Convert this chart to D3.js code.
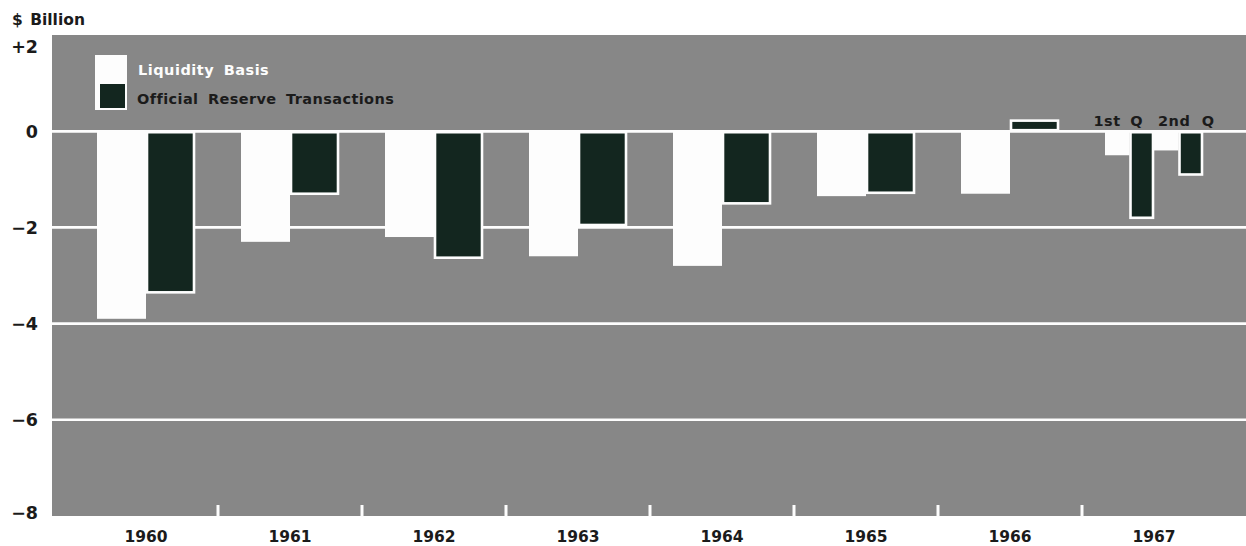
<!DOCTYPE html>
<html>
<head>
<meta charset="utf-8">
<script src="https://cdn.jsdelivr.net/npm/d3@7"></script>
<style>
  html, body { margin: 0; padding: 0; background: #fff; }
  svg { display: block; }
  text { font-family: "DejaVu Sans", sans-serif; font-weight: bold; }
</style>
</head>
<body>
<svg id="chart" width="1246" height="546"></svg>
<script>
// U.S. balance of payments, $ billion
const years = ["1960", "1961", "1962", "1963", "1964", "1965", "1966", "1967"];
const annualYears = ["1960", "1961", "1962", "1963", "1964", "1965", "1966"];
const liquidityBasis = [-3.9, -2.3, -2.2, -2.6, -2.8, -1.35, -1.3];
const officialReserve = [-3.35, -1.3, -2.63, -1.95, -1.5, -1.28, 0.22];
const quarters = ["1st Q", "2nd Q"];
const liquidity1967 = [-0.5, -0.4];
const official1967 = [-1.8, -0.9];
const yTicks = [2, 0, -2, -4, -6, -8];
const yTickLabels = ["+2", "0", "\u22122", "\u22124", "\u22126", "\u22128"];
const seriesNames = ["Liquidity Basis", "Official Reserve Transactions"];

const plotLeft = 52, plotRight = 1246;
const GRAY = "#878787", DARK = "#13261f", WHITE = "#fdfdfd", INK = "#1b1b1b";

const svg = d3.select("#chart");

const x = d3.scaleBand().domain(years).range([74, 1226]).padding(0);
const y = d3.scaleLinear().domain([-8, 2]).range([516, 35]);

// inner positions: a pair of bars per year, four bars for the 1967 quarters
const pairWidth = 98;
const pairOffset = (x.bandwidth() - pairWidth) / 2;
const inner = d3.scaleBand().domain(["liq", "ort"]).range([0, pairWidth]);
const innerQ = d3.scaleBand().domain(["q1liq", "q1ort", "q2liq", "q2ort"]).range([0, pairWidth]);

// plot background
svg.append("rect")
  .attr("x", plotLeft).attr("y", y(2))
  .attr("width", plotRight - plotLeft).attr("height", y(-8) - y(2))
  .attr("fill", GRAY);

// horizontal gridlines
svg.append("g").selectAll("line")
  .data(yTicks.filter(d => d < 2 && d > -8))
  .join("line")
  .attr("x1", plotLeft).attr("x2", plotRight)
  .attr("y1", d => y(d)).attr("y2", d => y(d))
  .attr("stroke", WHITE).attr("stroke-width", 2.6);

// y axis labels
const yLabelShift = [18, 7, 6.5, 6.5, 6.5, 3];
svg.append("g").selectAll("text")
  .data(yTicks)
  .join("text")
  .attr("x", 38)
  .attr("y", (d, i) => y(d) + yLabelShift[i])
  .attr("text-anchor", "end")
  .attr("font-size", 17.5)
  .attr("fill", INK)
  .text((d, i) => yTickLabels[i]);

svg.append("text")
  .attr("x", 12).attr("y", 25)
  .attr("font-size", 15.5)
  .attr("fill", INK)
  .attr("word-spacing", 2)
  .text("$ Billion");

// annual bars
const barsG = svg.append("g");
const annual = annualYears.map((yr, i) => ({ yr, liq: liquidityBasis[i], ort: officialReserve[i] }));

barsG.selectAll("rect.liq")
  .data(annual)
  .join("rect")
  .attr("class", "liq")
  .attr("x", d => x(d.yr) + pairOffset + inner("liq"))
  .attr("width", inner.bandwidth())
  .attr("y", d => Math.min(y(0), y(d.liq)))
  .attr("height", d => Math.abs(y(d.liq) - y(0)))
  .attr("fill", WHITE);

barsG.selectAll("rect.ort")
  .data(annual)
  .join("rect")
  .attr("class", "ort")
  .attr("x", d => x(d.yr) + pairOffset + inner("ort") + 1)
  .attr("width", inner.bandwidth() - 2)
  .attr("y", d => Math.min(y(0), y(d.ort)) + (d.ort > 0 ? 0 : 1))
  .attr("height", d => Math.abs(y(d.ort) - y(0)) - 1)
  .attr("fill", DARK)
  .attr("stroke", WHITE).attr("stroke-width", 2.6);

// 1967 quarterly bars
const q = quarters.map((name, i) => ({ name, i, liq: liquidity1967[i], ort: official1967[i] }));
const x67 = x("1967") + pairOffset;

barsG.selectAll("rect.qliq")
  .data(q)
  .join("rect")
  .attr("class", "qliq")
  .attr("x", d => x67 + innerQ(`q${d.i + 1}liq`))
  .attr("width", innerQ.bandwidth())
  .attr("y", y(0))
  .attr("height", d => y(d.liq) - y(0))
  .attr("fill", WHITE);

barsG.selectAll("rect.qort")
  .data(q)
  .join("rect")
  .attr("class", "qort")
  .attr("x", d => x67 + innerQ(`q${d.i + 1}ort`) + 1)
  .attr("width", innerQ.bandwidth() - 2)
  .attr("y", y(0) + 1)
  .attr("height", d => y(d.ort) - y(0) - 1)
  .attr("fill", DARK)
  .attr("stroke", WHITE).attr("stroke-width", 2.6);

// zero line on top of the bars
svg.append("line")
  .attr("x1", plotLeft).attr("x2", plotRight)
  .attr("y1", y(0)).attr("y2", y(0))
  .attr("stroke", WHITE).attr("stroke-width", 2.6);

// quarter labels
const qBoundary = x67 + innerQ("q2liq");
svg.append("text")
  .attr("x", qBoundary - 11).attr("y", y(0) - 5)
  .attr("text-anchor", "end")
  .attr("font-size", 14.5).attr("fill", INK)
  .attr("letter-spacing", 0.5).attr("word-spacing", 4)
  .text(quarters[0]);
svg.append("text")
  .attr("x", qBoundary + 4).attr("y", y(0) - 5)
  .attr("text-anchor", "start")
  .attr("font-size", 14.5).attr("fill", INK)
  .attr("letter-spacing", 0.5).attr("word-spacing", 6)
  .text(quarters[1]);

// x axis: white ticks between years, year labels below
const xAxis = d3.axisBottom(x).tickSize(0).tickPadding(15);
const xg = svg.append("g").attr("transform", `translate(0,${y(-8)})`).call(xAxis);
xg.select(".domain").remove();
xg.selectAll("text")
  .attr("font-size", 15.5)
  .attr("fill", INK)
  .attr("font-family", "DejaVu Sans")
  .attr("font-weight", "bold")
  .attr("dy", "0.71em");

svg.append("g").selectAll("line")
  .data(years.slice(1))
  .join("line")
  .attr("x1", d => x(d)).attr("x2", d => x(d))
  .attr("y1", y(-8) - 11).attr("y2", y(-8) + 1)
  .attr("stroke", WHITE).attr("stroke-width", 3);

// legend
const lg = svg.append("g");
lg.append("rect")
  .attr("x", 95).attr("y", 55).attr("width", 32).attr("height", 55)
  .attr("fill", WHITE);
lg.append("rect")
  .attr("x", 100).attr("y", 84).attr("width", 25).attr("height", 24)
  .attr("fill", DARK);
lg.append("text")
  .attr("x", 138).attr("y", 75)
  .attr("font-size", 14.5).attr("fill", WHITE)
  .attr("letter-spacing", 0.5).attr("word-spacing", 4)
  .text(seriesNames[0]);
lg.append("text")
  .attr("x", 137).attr("y", 104)
  .attr("font-size", 14.5).attr("fill", INK)
  .attr("letter-spacing", 0.4).attr("word-spacing", 4)
  .text(seriesNames[1]);
</script>
</body>
</html>
